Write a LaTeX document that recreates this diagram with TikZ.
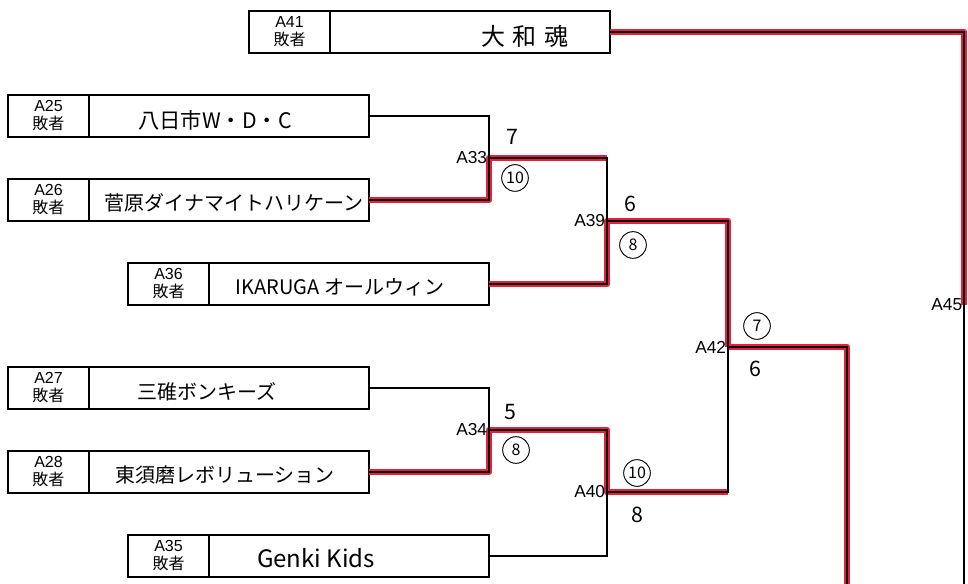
\documentclass[tikz,border=0pt]{standalone}
\usepackage{fontspec}
\setmainfont{Liberation Sans}
\newfontfamily\handfont{Noto Sans CJK JP}
\newfontfamily\jpfont{Noto Sans CJK JP}
\usetikzlibrary{positioning}
\definecolor{markred}{RGB}{232,30,60}

\begin{document}
\begin{tikzpicture}[
        x=0.75pt, y=-0.75pt,
        tag/.style={
            draw=black, line width=1.1pt, outer sep=0pt, inner sep=0pt,
            minimum width=60.75pt, minimum height=31.5pt, align=center,
            font=\fontsize{12}{13.5}\selectfont
        },
        team/.style={draw=black, line width=1.1pt, outer sep=0pt,
            minimum width=210pt, minimum height=31.5pt},
        hand/.style={font=\handfont\fontsize{15}{17}\selectfont, inner sep=0pt},
        line/.style={draw=black, line width=0.9pt},
        win/.style={draw=markred, line width=5pt, line join=round},
        match/.style={anchor=east, inner sep=1.2pt, font=\fontsize{13}{14}\selectfont},
        score/.style={font=\handfont\fontsize{16}{17}\selectfont, inner sep=0pt},
        circ/.style={circle, draw=black, line width=0.7pt, minimum size=20pt,
            inner sep=0pt, font=\handfont\fontsize{12}{13}\selectfont}
    ]
        \useasboundingbox (0,0) rectangle (968,584);

        % Teams
        \node[tag, anchor=west] (l41) at (249,32) {A41\\{\jpfont 敗者}};
        \node[team, right=0pt of l41] (t41) {};
        \node[hand, font=\handfont\fontsize{18}{20}\selectfont] (n41) at (525,36) {大\hspace{6pt}和\hspace{6pt}魂};

        \node[tag, anchor=west] (l25) at (8,116) {A25\\{\jpfont 敗者}};
        \node[team, right=0pt of l25] (t25) {};
        \node[hand, font=\handfont\fontsize{16}{18}\selectfont] (n25) at (215,120) {八日市W・D・C};

        \node[tag, anchor=west] (l26) at (8,200) {A26\\{\jpfont 敗者}};
        \node[team, right=0pt of l26] (t26) {};
        \node[hand] (n26) at (234,203) {菅原ダイナマイトハリケーン};

        \node[tag, anchor=west] (l36) at (128,284) {A36\\{\jpfont 敗者}};
        \node[team, right=0pt of l36] (t36) {};
        \node[hand] (n36) at (340,287) {IKARUGA オールウィン};

        \node[tag, anchor=west] (l27) at (8,388) {A27\\{\jpfont 敗者}};
        \node[team, right=0pt of l27] (t27) {};
        \node[hand] (n27) at (207,392) {三碓ボンキーズ};

        \node[tag, anchor=west] (l28) at (8,472) {A28\\{\jpfont 敗者}};
        \node[team, right=0pt of l28] (t28) {};
        \node[hand] (n28) at (225,475) {東須磨レボリューション};

        \node[tag, anchor=west] (l35) at (128,556) {A35\\{\jpfont 敗者}};
        \node[team, right=0pt of l35] (t35) {};
        \node[hand, font=\handfont\fontsize{18}{20}\selectfont] (n35) at (316,558) {Genki Kids};

        % Matches
        \coordinate (m33) at (489,158);
        \coordinate (m34) at (489,430);
        \coordinate (m39) at (607,221);
        \coordinate (m40) at (607,492);
        \coordinate (m42) at (728,347);
        \coordinate (m45) at (964,305);
        \coordinate (e42) at (847,584);
        \coordinate (e45) at (964,584);

        % Winners
        \draw[win] (t41.east) -| (m45);
        \draw[win] (t26.east) -| (m33) -- (m33 -| m39);
        \draw[win] (t36.east) -| (m39) -| (m42);
        \draw[win] (t28.east) -| (m34) -| (m40) -- (m40 -| m42);
        \draw[win] (m42) -| (e42);

        % Bracket
        \draw[line] (t25.east) -| (m33) |- (t26.east);
        \draw[line] (m33) -| (m39) |- (t36.east);
        \draw[line] (t27.east) -| (m34) |- (t28.east);
        \draw[line] (m34) -| (m40) |- (t35.east);
        \draw[line] (m39) -| (m42) |- (m40);
        \draw[line] (m42) -| (e42);
        \draw[line] (t41.east) -| (m45) -- (e45);

        \node[match] (a33) at (m33) {A33};
        \node[match] (a34) at (m34) {A34};
        \node[match] (a39) at (m39) {A39};
        \node[match] (a40) at (m40) {A40};
        \node[match] (a42) at (m42) {A42};
        \node[match] (a45) at (m45) {A45};

        % Scores
        \node[score] (s33) at (512,137) {7};
        \node[circ] (c33) at (515,178) {10};
        \node[score] (s39) at (630,204) {6};
        \node[circ] (c39) at (633,245) {8};
        \node[circ] (c42) at (757,326) {7};
        \node[score] (s42) at (755,369) {6};
        \node[score] (s34) at (510,412) {5};
        \node[circ] (c34) at (516,450) {8};
        \node[circ] (c40) at (637,473) {10};
        \node[score] (s40) at (637,515) {8};

    \end{tikzpicture}
\end{document}
